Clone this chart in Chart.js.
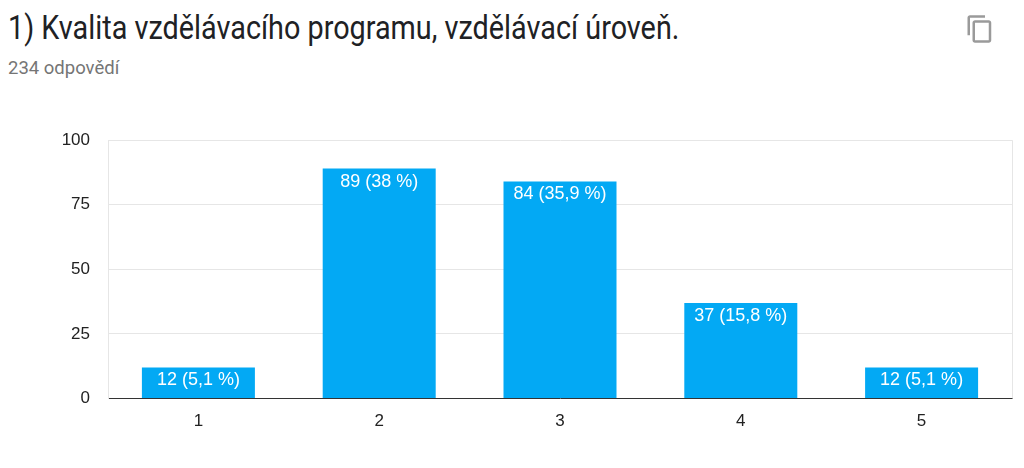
<!DOCTYPE html>
<html><head><meta charset="utf-8">
<script src="https://cdn.jsdelivr.net/npm/chart.js@4"></script>
<style>
html,body{margin:0;padding:0;background:#fff;width:1024px;height:468px;overflow:hidden;font-family:Roboto,"Liberation Sans",Arial,sans-serif;}
#title{position:absolute;left:8px;top:7px;font-size:34px;line-height:40px;color:#202124;white-space:nowrap;transform-origin:0 0;transform:scaleX(0.847);}
#sub{position:absolute;left:8px;top:57px;font-size:18.5px;line-height:22px;color:#757575;white-space:nowrap;}
#icon{position:absolute;left:965px;top:14px;}
#wrap{position:absolute;left:0;top:111.5px;width:1024px;height:338.5px;}
</style></head><body>
<div id="title">1) Kvalita vzdělávacího programu, vzdělávací úroveň.</div>
<div id="sub">234 odpovědí</div>
<svg id="icon" width="30" height="30" viewBox="0 0 24 24"><path fill="#9a9a9a" d="M16 1H4c-1.1 0-2 .9-2 2v14h2V3h12V1zm3 4H8c-1.1 0-2 .9-2 2v14c0 1.1.9 2 2 2h11c1.1 0 2-.9 2-2V7c0-1.1-.9-2-2-2zm0 16H8V7h11v14z"/></svg>
<div id="wrap"><canvas id="c"></canvas></div>
<script>
const categories = ["1","2","3","4","5"];
const counts = [12, 89, 84, 37, 12];
const yTicks = [0, 25, 50, 75, 100];

const total = counts.reduce((a,b)=>a+b,0);
function pctLabel(v){
  let p = (v/total*100).toFixed(1);
  if (p.endsWith(".0")) p = p.slice(0,-2);
  return v + " (" + p.replace(".", ",") + " %)";
}

const barLabels = {
  id:'barLabels',
  afterDatasetsDraw(chart){
    const ctx = chart.ctx;
    const meta = chart.getDatasetMeta(0);
    ctx.save();
    ctx.fillStyle = '#fff';
    ctx.font = '18px "Liberation Sans", Arial, sans-serif';
    ctx.textAlign = 'center';
    ctx.textBaseline = 'middle';
    meta.data.forEach((bar,i)=>{
      ctx.fillText(pctLabel(counts[i]), bar.x, bar.y + 13);
    });
    ctx.restore();
  }
};
const rightEdge = {
  id:'rightEdge',
  beforeDatasetsDraw(chart){
    const a = chart.chartArea, ctx = chart.ctx;
    ctx.save();
    ctx.strokeStyle = '#e6e6e6';
    ctx.lineWidth = 1;
    ctx.beginPath();
    ctx.moveTo(Math.round(a.right)+0.5, a.top);
    ctx.lineTo(Math.round(a.right)+0.5, a.bottom);
    ctx.stroke();
    ctx.restore();
  }
};

new Chart(document.getElementById('c'), {
  type:'bar',
  data:{ labels:categories, datasets:[{ data:counts, backgroundColor:'#03a9f4', categoryPercentage:0.625, barPercentage:1 }] },
  options:{
    responsive:true, maintainAspectRatio:false, animation:false,
    layout:{ padding:{ top:12, right:12, left:0, bottom:0 } },
    plugins:{ legend:{display:false}, tooltip:{enabled:false} },
    scales:{
      x:{
        grid:{ display:false },
        border:{ color:'#333', width:1 },
        ticks:{ color:'#222', font:{ size:17, family:'"Liberation Sans", Arial, sans-serif' }, padding:5 },
        afterFit(s){ s.height = 52; }
      },
      y:{
        min:0, max:100,
        afterBuildTicks(s){ s.ticks = yTicks.map(v=>({value:v})); },
        grid:{ color:(c)=> c.tick && c.tick.value===0 ? 'rgba(0,0,0,0)' : '#e6e6e6', drawTicks:false },
        border:{ color:'#e6e6e6' },
        ticks:{ color:'#222', font:{ size:17, family:'"Liberation Sans", Arial, sans-serif' }, padding:18 },
        afterFit(s){ s.width = 108; }
      }
    }
  },
  plugins:[barLabels, rightEdge]
});
</script>
</body></html>
